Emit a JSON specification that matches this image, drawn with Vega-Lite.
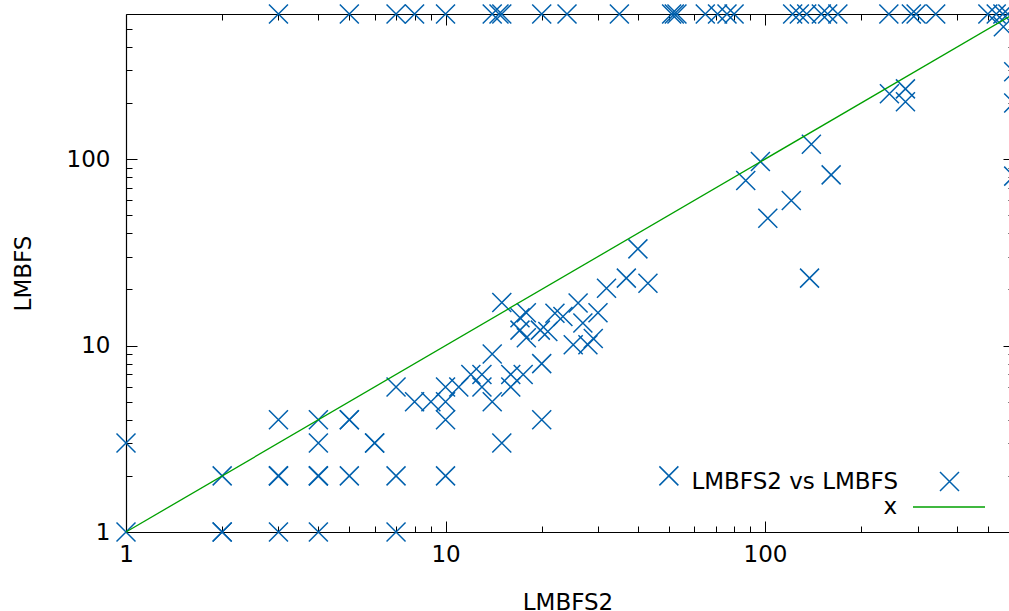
{
  "$schema": "https://vega.github.io/schema/vega-lite/v6.json",
  "width": 883,
  "height": 518,
  "autosize": "none",
  "padding": {"left": 126, "top": 14, "right": 0, "bottom": 79},
  "background": "white",
  "config": {
    "view": {"stroke": null},
    "font": "DejaVu Sans",
    "axis": {"grid": false, "domainColor": "black", "domainWidth": 1.2, "tickColor": "black", "tickWidth": 1, "labelColor": "black", "labelFontSize": 23, "labelFont": "DejaVu Sans", "titleFont": "DejaVu Sans", "titleFontSize": 23, "titleFontWeight": "normal", "titleColor": "black", "labelOverlap": false, "labelFlush": false},
    "legend": {"labelLimit": 0}
  },
  "datasets": {
    "pts": [
      {"LMBFS2": 3, "LMBFS": 600}, {"LMBFS2": 5, "LMBFS": 600}, {"LMBFS2": 7, "LMBFS": 600}, {"LMBFS2": 8, "LMBFS": 600},
      {"LMBFS2": 10, "LMBFS": 600}, {"LMBFS2": 14, "LMBFS": 600}, {"LMBFS2": 14.7, "LMBFS": 600}, {"LMBFS2": 15, "LMBFS": 600},
      {"LMBFS2": 20, "LMBFS": 600}, {"LMBFS2": 24, "LMBFS": 600}, {"LMBFS2": 35, "LMBFS": 600}, {"LMBFS2": 51, "LMBFS": 600},
      {"LMBFS2": 52, "LMBFS": 600}, {"LMBFS2": 53, "LMBFS": 600}, {"LMBFS2": 65, "LMBFS": 600}, {"LMBFS2": 71, "LMBFS": 600},
      {"LMBFS2": 76, "LMBFS": 600}, {"LMBFS2": 80, "LMBFS": 600}, {"LMBFS2": 122, "LMBFS": 600}, {"LMBFS2": 128, "LMBFS": 600},
      {"LMBFS2": 135, "LMBFS": 600}, {"LMBFS2": 150, "LMBFS": 600}, {"LMBFS2": 157, "LMBFS": 600}, {"LMBFS2": 169, "LMBFS": 600},
      {"LMBFS2": 244, "LMBFS": 600}, {"LMBFS2": 287, "LMBFS": 600}, {"LMBFS2": 297, "LMBFS": 600}, {"LMBFS2": 342, "LMBFS": 600},
      {"LMBFS2": 498, "LMBFS": 600}, {"LMBFS2": 529, "LMBFS": 600}, {"LMBFS2": 555, "LMBFS": 600}, {"LMBFS2": 575, "LMBFS": 600},
      {"LMBFS2": 1, "LMBFS": 1}, {"LMBFS2": 1, "LMBFS": 3}, {"LMBFS2": 2, "LMBFS": 2}, {"LMBFS2": 2, "LMBFS": 1},
      {"LMBFS2": 2, "LMBFS": 1}, {"LMBFS2": 3, "LMBFS": 4}, {"LMBFS2": 3, "LMBFS": 2}, {"LMBFS2": 3, "LMBFS": 2},
      {"LMBFS2": 3, "LMBFS": 1}, {"LMBFS2": 4, "LMBFS": 4}, {"LMBFS2": 4, "LMBFS": 3}, {"LMBFS2": 4, "LMBFS": 2},
      {"LMBFS2": 4, "LMBFS": 2}, {"LMBFS2": 4, "LMBFS": 1}, {"LMBFS2": 5, "LMBFS": 4}, {"LMBFS2": 5, "LMBFS": 4},
      {"LMBFS2": 5, "LMBFS": 2}, {"LMBFS2": 6, "LMBFS": 3}, {"LMBFS2": 6, "LMBFS": 3}, {"LMBFS2": 7, "LMBFS": 6},
      {"LMBFS2": 7, "LMBFS": 2}, {"LMBFS2": 7, "LMBFS": 1}, {"LMBFS2": 8, "LMBFS": 5}, {"LMBFS2": 9, "LMBFS": 5},
      {"LMBFS2": 10, "LMBFS": 5}, {"LMBFS2": 10, "LMBFS": 6}, {"LMBFS2": 10, "LMBFS": 4}, {"LMBFS2": 10, "LMBFS": 2},
      {"LMBFS2": 11, "LMBFS": 6}, {"LMBFS2": 12, "LMBFS": 7}, {"LMBFS2": 13, "LMBFS": 7}, {"LMBFS2": 13, "LMBFS": 6},
      {"LMBFS2": 14, "LMBFS": 5}, {"LMBFS2": 14, "LMBFS": 9}, {"LMBFS2": 15, "LMBFS": 17}, {"LMBFS2": 15, "LMBFS": 3},
      {"LMBFS2": 16, "LMBFS": 7}, {"LMBFS2": 16, "LMBFS": 6}, {"LMBFS2": 17.5, "LMBFS": 7}, {"LMBFS2": 20, "LMBFS": 8},
      {"LMBFS2": 20, "LMBFS": 4}, {"LMBFS2": 50, "LMBFS": 2},
      {"LMBFS2": 17.1, "LMBFS": 14.1}, {"LMBFS2": 17.9, "LMBFS": 15}, {"LMBFS2": 17.1, "LMBFS": 12.1}, {"LMBFS2": 17.9, "LMBFS": 11},
      {"LMBFS2": 19.8, "LMBFS": 12.1}, {"LMBFS2": 20.9, "LMBFS": 11.9}, {"LMBFS2": 22, "LMBFS": 14.9}, {"LMBFS2": 23.3, "LMBFS": 14.3},
      {"LMBFS2": 26, "LMBFS": 16.9}, {"LMBFS2": 26.9, "LMBFS": 13.2}, {"LMBFS2": 30, "LMBFS": 15}, {"LMBFS2": 25.1, "LMBFS": 10.1},
      {"LMBFS2": 27.9, "LMBFS": 10.1}, {"LMBFS2": 29, "LMBFS": 10.9}, {"LMBFS2": 31.9, "LMBFS": 20.3}, {"LMBFS2": 36.8, "LMBFS": 23},
      {"LMBFS2": 43, "LMBFS": 21.6}, {"LMBFS2": 40, "LMBFS": 33},
      {"LMBFS2": 96.7, "LMBFS": 97}, {"LMBFS2": 87, "LMBFS": 76.7}, {"LMBFS2": 139.6, "LMBFS": 120}, {"LMBFS2": 161, "LMBFS": 82.3},
      {"LMBFS2": 120.8, "LMBFS": 59.9}, {"LMBFS2": 102, "LMBFS": 48.2}, {"LMBFS2": 137.8, "LMBFS": 23}, {"LMBFS2": 245, "LMBFS": 224},
      {"LMBFS2": 275, "LMBFS": 238}, {"LMBFS2": 275, "LMBFS": 203}, {"LMBFS2": 600, "LMBFS": 294}, {"LMBFS2": 600, "LMBFS": 200},
      {"LMBFS2": 600, "LMBFS": 81}, {"LMBFS2": 557, "LMBFS": 512}
    ],
    "diag": [{"x": 1, "y": 1}, {"x": 600, "y": 600}]
  },
  "layer": [
    {
      "data": {"name": "pts"},
      "mark": {"type": "point", "shape": "M-1,-1L1,1M-1,1L1,-1", "filled": false, "size": 361, "strokeWidth": 1.5, "opacity": 1},
      "encoding": {
        "x": {"field": "LMBFS2", "type": "quantitative", "scale": {"type": "log", "domain": [1, 580], "nice": false},
          "axis": {"orient": "bottom", "title": "LMBFS2", "values": [1,2,3,4,5,6,7,8,9,10,20,30,40,50,60,70,80,90,100,200,300,400,500], "format": "d",
            "labelExpr": "datum.value == 1 || datum.value == 10 || datum.value == 100 ? datum.label : ''",
            "tickSize": {"condition": {"test": "datum.value == 1 || datum.value == 10 || datum.value == 100", "value": -11}, "value": -6},
            "labelPadding": 22, "titlePadding": 20}},
        "y": {"field": "LMBFS", "type": "quantitative", "scale": {"type": "log", "domain": [1, 600], "nice": false},
          "axis": {"orient": "left", "title": "LMBFS", "values": [1,2,3,4,5,6,7,8,9,10,20,30,40,50,60,70,80,90,100,200,300,400,500], "format": "d",
            "labelExpr": "datum.value == 1 || datum.value == 10 || datum.value == 100 ? datum.label : ''",
            "tickSize": {"condition": {"test": "datum.value == 1 || datum.value == 10 || datum.value == 100", "value": -11}, "value": -6},
            "labelPadding": 27, "titlePadding": 31}},
        "color": {"datum": "LMBFS2 vs LMBFS", "type": "nominal", "scale": {"range": ["#0060ad"]},
          "legend": {"orient": "none", "legendX": 812, "legendY": 456, "title": null, "padding": 0,
            "symbolType": "M-1,-1L1,1M-1,1L1,-1", "symbolSize": 361, "symbolStrokeWidth": 1.5, "symbolFillColor": "transparent", "symbolStrokeColor": "#0060ad",
            "labelFontSize": 23, "labelFont": "DejaVu Sans", "labelColor": "black", "labelAlign": "right", "labelOffset": -63}}
      }
    },
    {
      "data": {"name": "diag"},
      "mark": {"type": "line", "strokeWidth": 1.3},
      "encoding": {
        "x": {"field": "x", "type": "quantitative", "scale": {"type": "log", "domain": [1, 580], "nice": false},
          "axis": {"orient": "top", "title": null, "labels": false, "values": [1,2,3,4,5,6,7,8,9,10,20,30,40,50,60,70,80,90,100,200,300,400,500],
            "tickSize": {"condition": {"test": "datum.value == 1 || datum.value == 10 || datum.value == 100", "value": -11}, "value": -6}}},
        "y": {"field": "y", "type": "quantitative", "scale": {"type": "log", "domain": [1, 600], "nice": false},
          "axis": {"orient": "right", "title": null, "labels": false, "domain": false, "offset": 5, "values": [1,2,3,4,5,6,7,8,9,10,20,30,40,50,60,70,80,90,100,200,300,400,500],
            "tickSize": {"condition": {"test": "datum.value == 1 || datum.value == 10 || datum.value == 100", "value": -11}, "value": -6}}},
        "stroke": {"datum": "x", "type": "nominal", "scale": {"range": ["#00a000"]},
          "legend": {"orient": "none", "legendX": 786, "legendY": 456, "title": null, "padding": 0,
            "symbolType": "stroke", "symbolSize": 5184, "symbolStrokeWidth": 1.3, "symbolStrokeColor": "#00a000",
            "labelFontSize": 23, "labelFont": "DejaVu Sans", "labelColor": "black", "labelAlign": "right", "labelOffset": -89}}
      }
    }
  ],
  "resolve": {"axis": {"x": "independent", "y": "independent"}, "scale": {"color": "independent", "stroke": "independent"}}
}
